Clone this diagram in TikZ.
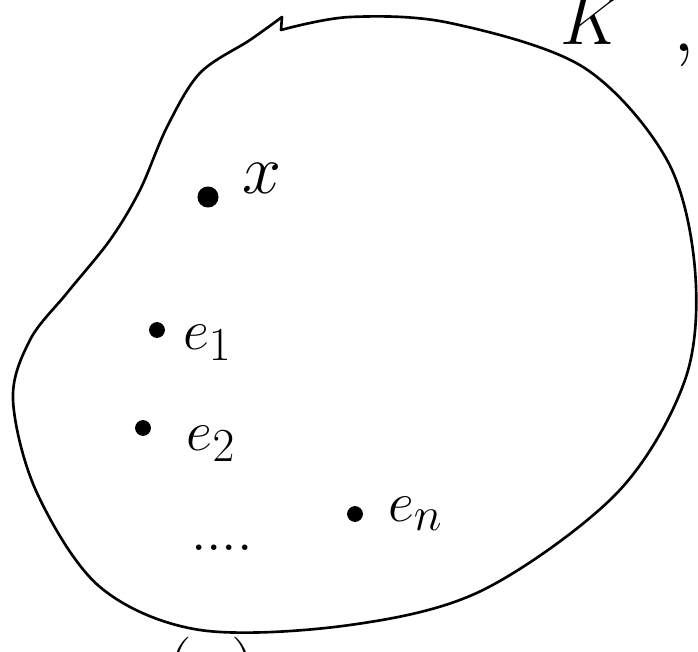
\documentclass[tikz,border=0pt]{standalone}
\usepackage{amsmath}
\usepackage{graphicx}
\usetikzlibrary{positioning}

\newcommand{\bigmath}[2]{\scalebox{#1}{$#2$}}

\tikzset{
  pt/.style={circle, fill=black, inner sep=0pt, minimum size=9pt},
  lbl/.style={font=\Huge, inner sep=0pt},
  blob/.style={line width=1.5pt, line join=round, line cap=round}
}

\begin{document}
\begin{tikzpicture}[x=0.02cm, y=-0.02cm]
  \useasboundingbox (0,0) rectangle (698,652);
  \begin{scope}
    \clip (0,0) rectangle (698,652);
    % the set, drawn by hand
    \draw[blob] plot[smooth, tension=0.55] coordinates {
      (281,30) (350,17) (450,23) (583,67) (667,160) (695,270)
      (685,380) (617,493) (483,590) (350,625) (200,630) (100,587)
      (37,493) (13,400) (30,340) (67,293) (110,240) (140,190)
      (167,127) (200,73) (250,40) (282,17)};
    \draw[blob] (282,17) -- (281,30);
    % points inside
    \node[pt, minimum size=12pt] (x) at (208,197) {};
    \node[pt] (e1) at (157,330) {};
    \node[pt] (e2) at (143,428) {};
    \node[pt] (en) at (355,514) {};
    \node[lbl] (xlab) at (262,178) {\bigmath{1.6}{x}};
    \node[lbl, right=10pt of e1, yshift=-7pt] (e1lab) {\bigmath{1.3}{e_1}};
    \node[lbl, right=20pt of e2, yshift=-9pt] (e2lab) {\bigmath{1.3}{e_2}};
    \node[lbl, right=14pt of en] (enlab) {\bigmath{1.3}{e_n}};
    \node[lbl] (dots) at (222,548) {\bigmath{1.3}{....}};
    % name of the set
    \node[lbl, anchor=base] (K) at (592,45) {\bigmath{1.6}{K}};
    \node[lbl, anchor=base] (comma) at (684,52) {\bigmath{1.8}{,}};
    % cut off below
    \node[lbl] (bottom) at (212,672) {\bigmath{1.6}{(u)}};
  \end{scope}
\end{tikzpicture}
\end{document}
